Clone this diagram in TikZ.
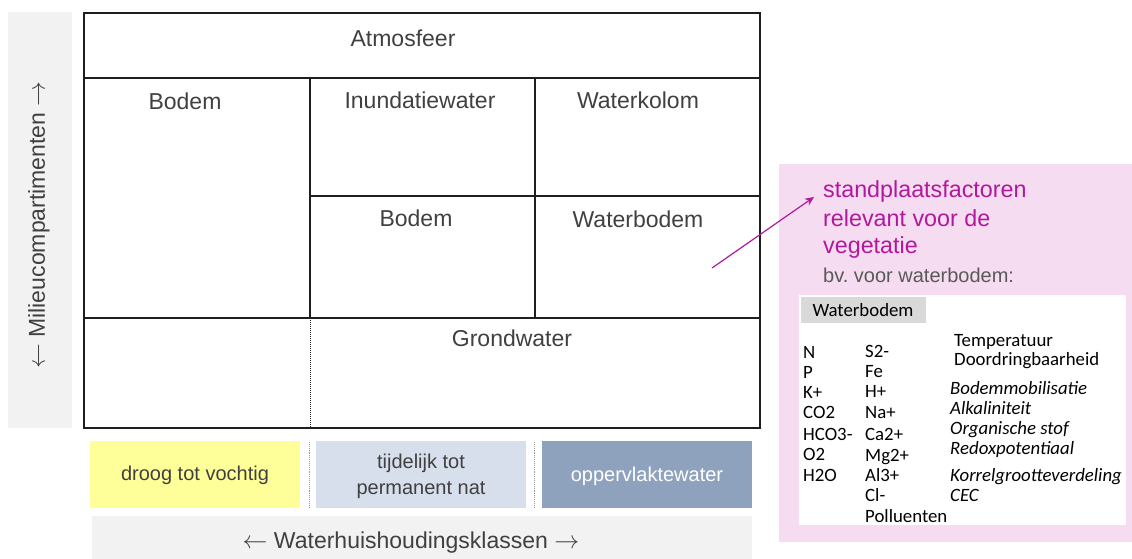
\documentclass[tikz,border=0pt]{standalone}
\usepackage{fontspec}
\setmainfont{Liberation Sans}
\newfontfamily\calib{Carlito}
\usetikzlibrary{arrows.meta}
\frenchspacing
\definecolor{txt}{HTML}{404040}
\definecolor{panelgray}{HTML}{F2F2F2}
\definecolor{framec}{HTML}{1E1E1E}
\definecolor{yel}{HTML}{FFFF99}
\definecolor{lblue}{HTML}{D6DFEB}
\definecolor{dblue}{HTML}{8EA2BE}
\definecolor{pinkbg}{HTML}{F6DCF0}
\definecolor{mag}{HTML}{B0199C}
\definecolor{lbl}{HTML}{D9D9D9}
\definecolor{bvgray}{HTML}{595959}
\tikzset{
  frame/.style={draw=framec, line width=1.8pt},
  sep/.style={draw=gray!80, densely dotted, line width=0.9pt},
  cell/.style={anchor=base, font=\fontsize{23}{27}\selectfont, text=txt},
  klasse/.style={font=\fontsize{20}{26}\selectfont, align=center},
  axis/.style={font=\fontsize{23}{27}\selectfont, text=txt},
  magtext/.style={anchor=base west, font=\fontsize{23.3}{27}\selectfont, text=mag},
  tab/.style={anchor=base west, font=\calib\fontsize{18.8}{20}\selectfont, text=black},
  tabit/.style={tab, font=\calib\itshape\fontsize{18.8}{20}\selectfont},
}
\begin{document}
\begin{tikzpicture}[x=1pt,y=-1pt, every node/.style={inner sep=0pt}]
\useasboundingbox (0,0) rectangle (1132,559);
% left axis panel
\fill[panelgray] (8,12) rectangle (72,428);
\node[axis, rotate=90] (mc) at (39,225) {$\leftarrow$ Milieucompartimenten $\rightarrow$};
% main grid
\draw[frame] (84,13) rectangle (760,428);
\draw[frame] (84,78) -- (760,78);
\draw[frame] (84,318) -- (760,318);
\draw[frame] (310,78) -- (310,318);
\draw[frame] (535,78) -- (535,318);
\draw[frame] (310,196) -- (760,196);
\draw[draw=framec, densely dotted, line width=1pt] (310,318) -- (310,428);
\node[cell] (atm) at (403,47) {Atmosfeer};
\node[cell] (bod1) at (185,110) {Bodem};
\node[cell] (inu) at (420,109) {Inundatiewater};
\node[cell] (wk) at (638,109) {Waterkolom};
\node[cell] (bod2) at (416,226) {Bodem};
\node[cell] (wb) at (638,227) {Waterbodem};
\node[cell] (gw) at (512,346) {Grondwater};
% bottom classes
\fill[yel] (90,441) rectangle (300,508);
\fill[lblue] (316,441) rectangle (526,508);
\fill[dblue] (542,441) rectangle (752,508);
\draw[sep] (309,442) -- (309,508);
\draw[sep] (534,442) -- (534,508);
\node[klasse, text=txt] (k1) at (195,475) {droog tot vochtig};
\node[klasse, text=txt] (k2) at (421,476) {tijdelijk tot\\permanent nat};
\node[klasse, text=white] (k3) at (647,476) {oppervlaktewater};
\fill[panelgray] (92,516) rectangle (752,559);
\node[axis] (whk) at (411,543) {$\leftarrow$ Waterhuishoudingsklassen $\rightarrow$};
% pink panel
\fill[pinkbg] (779,164) rectangle (1132,542);
\node[magtext] (sf1) at (823,197) {standplaatsfactoren};
\node[magtext] (sf2) at (823,226) {relevant voor de};
\node[magtext] (sf3) at (823,253) {vegetatie};
\node[anchor=base west, font=\fontsize{20}{24}\selectfont, text=bvgray] (bv) at (823,282) {bv. voor waterbodem:};
\fill[white] (799,295) rectangle (1126,525);
\fill[lbl] (801,297) rectangle (926,323);
\node[anchor=base, font=\calib\fontsize{18.8}{20}\selectfont, text=black] (wbl) at (863,316) {Waterbodem};
\begin{scope}
\clip (799,295) rectangle (1122,525);
\node[tab] (n) at (803,358) {N};
\node[tab] (p) at (803,378) {P};
\node[tab] (k) at (803,398) {K+};
\node[tab] (co2) at (803,418) {CO2};
\node[tab] (hco3) at (803,440) {HCO3-};
\node[tab] (o2) at (803,460) {O2};
\node[tab] (h2o) at (803,481) {H2O};
\node[tab] (s2) at (865,357) {S2-};
\node[tab] (fe) at (865,377) {Fe};
\node[tab] (hp) at (865,397) {H+};
\node[tab] (na) at (865,418) {Na+};
\node[tab] (ca) at (865,440) {Ca2+};
\node[tab] (mg) at (865,461) {Mg2+};
\node[tab] (al) at (865,481) {Al3+};
\node[tab] (cl) at (865,501) {Cl-};
\node[tab] (pol) at (865,522) {Polluenten};
\node[tab] (temp) at (954,346) {Temperatuur};
\node[tab] (door) at (954,365) {Doordringbaarheid};
\node[tabit] (bm) at (950,394) {Bodemmobilisatie};
\node[tabit] (alk) at (950,414) {Alkaliniteit};
\node[tabit] (org) at (950,434) {Organische stof};
\node[tabit] (red) at (950,454) {Redoxpotentiaal};
\node[tabit] (kor) at (950,481) {Korrelgrootteverdeling};
\node[tabit] (cec) at (950,501) {CEC};
\end{scope}
% arrow
\coordinate (arrS) at (712,268);
\coordinate (arrE) at (814,197);
\draw[mag, line width=1.2pt, -{Stealth[length=9pt,width=8pt]}] (arrS) -- (arrE);
\end{tikzpicture}
\end{document}
